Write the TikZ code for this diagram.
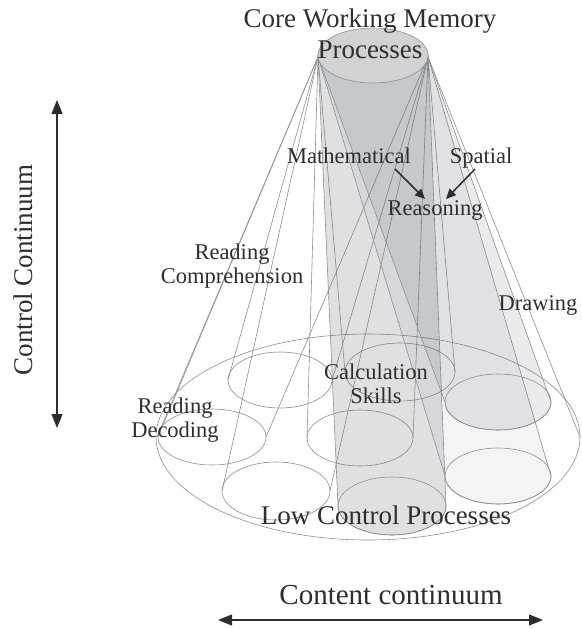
\documentclass[tikz,border=0pt]{standalone}
\usepackage{fontspec}
\setmainfont{Liberation Serif}
\usetikzlibrary{arrows.meta}
\definecolor{ink}{HTML}{2E2E2E}
\definecolor{edge}{HTML}{8E8E8E}
\definecolor{shade}{HTML}{5A6470}
\definecolor{capfill}{HTML}{D0D2D4}

% open cone: lines from the rim of the top cap to a base ellipse
\newcommand\wmcone[4]{%
  \draw[outline] (TL) -- (#1-#3,#2) (TR) -- (#1+#3,#2);
  \draw[outline] (#1,#2) ellipse[x radius=#3,y radius=#4];}
% shaded cylinder from the top cap to a base ellipse
\newcommand\wmcyl[5]{%
  \path[outline,fill=shade,fill opacity=#5] (TL) -- (#1-#3,#2)
    arc[start angle=180,end angle=0,x radius=#3,y radius=#4] -- (TR)
    arc[start angle=0,end angle=-180,x radius=55,y radius=27.5] -- cycle;
  \draw[outline] (#1,#2) ellipse[x radius=#3,y radius=#4];}

\begin{document}
\begin{tikzpicture}[x=1pt,y=-1pt,
  outline/.style={draw=edge,line width=0.6pt},
  lbl/.style={text=ink,font=\fontsize{22.5}{24}\selectfont,align=center,inner sep=0pt},
  biglbl/.style={text=ink,font=\fontsize{27}{31}\selectfont,align=center,inner sep=0pt},
  ptr/.style={draw=ink,line width=1.5pt,-{Triangle[length=10pt,width=9pt]}},
  axisarrow/.style={draw=ink,line width=1.1pt,
    {Triangle[length=14pt,width=11pt]}-{Triangle[length=14pt,width=11pt]}}]
\useasboundingbox (0,0) rectangle (581,629);

\coordinate (TL) at (318,57);
\coordinate (TR) at (428,57);

% outer cone and its base
\draw[outline] (TL) -- (157,437) (TR) -- (580,437);
\draw[outline] (368,437) ellipse[x radius=212,y radius=103];

% open cones
\wmcone{400}{372}{55}{29}
\wmcone{280}{380}{52}{28}
\wmcone{212}{437}{54}{28}
\wmcone{360}{438}{53}{28}
\wmcone{276}{491}{54}{29}

% shaded cylinders
\wmcyl{392}{506}{54}{29}{0.2}
\wmcyl{498}{476}{53}{28}{0.07}
\wmcyl{498}{402}{53}{28}{0.13}

% top cap
\draw[outline,fill=capfill] (373,55.5) ellipse[x radius=55,y radius=27.5];

% labels
\node[biglbl] (core) at (370,33.5) {Core Working Memory\\Processes};
\node[lbl,anchor=base] (math) at (349,163) {Mathematical};
\node[lbl,anchor=base] (spat) at (481,163) {Spatial};
\node[lbl,anchor=base] (reas) at (435,215) {Reasoning};
\node[lbl] (rcomp) at (232,266) {Reading\\Comprehension};
\node[lbl] (rdec) at (175,420) {Reading\\Decoding};
\node[lbl] (calc) at (376,384) {Calculation\\Skills};
\node[lbl,anchor=base] (draw) at (538,310) {Drawing};
\node[biglbl,anchor=base] (low) at (386,524) {Low Control Processes};
\node[biglbl,font=\fontsize{29}{31}\selectfont,anchor=base] (content) at (391,604) {Content continuum};
\node[biglbl,rotate=90,anchor=base] (control) at (32,270) {Control Continuum};

% pointers into Reasoning
\coordinate (mA) at (395,169);
\coordinate (mB) at (425,199);
\coordinate (sA) at (475,169);
\coordinate (sB) at (446,199);
\draw[ptr] (mA) -- (mB);
\draw[ptr] (sA) -- (sB);

% continuum axes
\coordinate (cTop) at (57,100);
\coordinate (cBot) at (57,428);
\coordinate (hL) at (218,620);
\coordinate (hR) at (543,620);
\draw[axisarrow] (cTop) -- (cBot);
\draw[axisarrow] (hL) -- (hR);
\end{tikzpicture}
\end{document}
